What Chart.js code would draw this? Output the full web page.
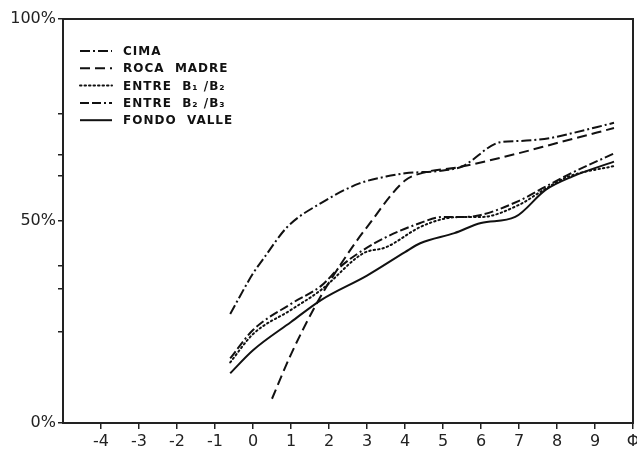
<!DOCTYPE html>
<html>
<head>
<meta charset="utf-8">
<script src="https://cdn.jsdelivr.net/npm/chart.js@4/dist/chart.umd.min.js"></script>
<style>
  html, body { margin: 0; padding: 0; background: #fff; }
  #wrap { width: 637px; height: 459px; position: relative; }
</style>
</head>
<body>
<div id="wrap"><canvas id="c" width="637" height="459"></canvas></div>
<script>
// ---- Data ----
const seriesLabels = ['CIMA', 'ROCA  MADRE', 'ENTRE  B\u2081 /B\u2082', 'ENTRE  B\u2082 /B\u2083', 'FONDO  VALLE'];

const cimaX = [-0.6, 0.0, 0.3, 0.9, 1.8, 2.8, 3.5, 4.0, 5.0, 5.5, 6.5, 7.0, 7.8, 8.2, 9.5];
const cimaY = [27.0, 37.0, 41.0, 48.5, 54.5, 59.3, 61.0, 61.8, 62.5, 63.5, 69.5, 69.8, 70.5, 71.3, 74.3];

const rocaX = [0.5, 1.0, 1.7, 2.5, 3.0, 4.0, 4.5, 5.4, 7.0, 8.0, 9.5];
const rocaY = [6.0, 17.0, 30.0, 42.0, 48.5, 60.0, 62.0, 63.3, 66.8, 69.3, 73.0];

const b12X = [-0.6, 0.0, 1.0, 1.8, 2.9, 3.5, 4.4, 5.0, 5.5, 6.0, 7.0, 7.7, 8.3, 9.5];
const b12Y = [15.0, 22.0, 28.0, 33.0, 42.0, 43.5, 48.5, 50.5, 51.0, 51.0, 54.0, 58.0, 61.0, 63.6];

const b23X = [-0.6, 0.0, 1.0, 1.8, 2.3, 3.2, 4.4, 5.0, 5.5, 6.0, 7.0, 7.7, 8.3, 9.5];
const b23Y = [16.0, 23.0, 29.5, 34.0, 38.7, 44.5, 49.5, 51.0, 51.0, 51.5, 55.0, 58.5, 61.5, 66.7];

const fondoX = [-0.6, 0.0, 1.0, 1.8, 3.0, 4.0, 4.4, 5.3, 6.0, 6.9, 7.7, 8.4, 9.5];
const fondoY = [12.3, 18.0, 25.0, 30.5, 36.5, 42.3, 44.5, 47.0, 49.5, 51.0, 57.7, 61.0, 64.7];

const xTickValues = [-4, -3, -2, -1, 0, 1, 2, 3, 4, 5, 6, 7, 8, 9, 10];
const xTickLabels = ['-4', '-3', '-2', '-1', '0', '1', '2', '3', '4', '5', '6', '7', '8', '9', '\u03A6'];

const yTickValues = [0, 22.5, 33.3, 38.8, 50, 61.1, 66.5, 76.5, 100];
const yTickLabels = ['0%', '', '', '', '50%', '', '', '', '100%'];

// ---- Build datasets ----
function pts(xs, ys) { return xs.map((x, i) => ({ x: x, y: ys[i] })); }
const dashes = [[10, 3, 2, 3], [10, 5], [1.5, 3], [9, 3, 9, 3, 2, 3], []];
const seriesData = [pts(cimaX, cimaY), pts(rocaX, rocaY), pts(b12X, b12Y), pts(b23X, b23Y), pts(fondoX, fondoY)];

const datasets = seriesData.map((d, i) => ({
  label: seriesLabels[i],
  data: d,
  borderColor: '#111',
  borderWidth: 2,
  borderDash: dashes[i],
  borderCapStyle: i === 2 ? 'round' : 'butt',
  pointRadius: 0,
  fill: false,
  tension: 0.35,
  cubicInterpolationMode: 'monotone'
}));

// ---- Plugins ----
const framePlugin = {
  id: 'frame',
  afterDatasetsDraw(chart) {
    const a = chart.chartArea, ctx = chart.ctx;
    ctx.save();
    ctx.strokeStyle = '#222';
    ctx.lineWidth = 2;
    ctx.setLineDash([]);
    ctx.strokeRect(a.left, a.top, a.right - a.left, a.bottom - a.top);
    ctx.restore();
  }
};

const legendPlugin = {
  id: 'customLegend',
  afterDraw(chart) {
    const a = chart.chartArea, ctx = chart.ctx;
    ctx.save();
    ctx.font = 'bold 12px "DejaVu Sans", sans-serif';
    try { ctx.letterSpacing = '1px'; } catch (e) {}
    ctx.textBaseline = 'middle';
    ctx.fillStyle = '#111';
    chart.data.datasets.forEach((ds, i) => {
      const y = a.top + 32 + i * 17.3;
      const x0 = a.left + 17, x1 = a.left + 49;
      ctx.beginPath();
      ctx.strokeStyle = '#111';
      ctx.lineWidth = 2;
      ctx.lineCap = ds.borderCapStyle;
      ctx.setLineDash(ds.borderDash);
      ctx.moveTo(x0, y);
      ctx.lineTo(x1, y);
      ctx.stroke();
      ctx.setLineDash([]);
      ctx.fillText(ds.label, a.left + 60, y + 1);
    });
    ctx.restore();
  }
};

// ---- Chart ----
new Chart(document.getElementById('c'), {
  type: 'line',
  data: { datasets: datasets },
  plugins: [framePlugin, legendPlugin],
  options: {
    responsive: false,
    animation: false,
    layout: { padding: { top: 19, right: 4, left: 0, bottom: 0 } },
    plugins: { legend: { display: false }, tooltip: { enabled: false } },
    scales: {
      x: {
        type: 'linear',
        min: -5,
        max: 10,
        afterBuildTicks(scale) { scale.ticks = xTickValues.map(v => ({ value: v })); },
        afterFit(scale) { scale.height = 36; scale.paddingLeft = 0; scale.paddingRight = 0; },
        border: { display: false },
        grid: { drawOnChartArea: false, drawTicks: true, tickLength: 6, color: '#222', lineWidth: 1.5 },
        ticks: {
          autoSkip: false,
          maxRotation: 0,
          padding: 3,
          color: '#222',
          font: { family: '"DejaVu Sans", sans-serif', size: 16 },
          callback(value) { const k = xTickValues.indexOf(value); return k >= 0 ? xTickLabels[k] : ''; }
        }
      },
      y: {
        type: 'linear',
        min: 0,
        max: 100,
        afterBuildTicks(scale) { scale.ticks = yTickValues.map(v => ({ value: v })); },
        afterFit(scale) { scale.width = 63; scale.paddingTop = 0; scale.paddingBottom = 0; },
        border: { display: false },
        grid: { drawOnChartArea: false, drawTicks: true, tickLength: 5, color: '#222', lineWidth: 1.5 },
        ticks: {
          autoSkip: false,
          padding: 2,
          color: '#222',
          font: { family: '"DejaVu Sans", sans-serif', size: 16 },
          callback(value) { const k = yTickValues.indexOf(value); return k >= 0 ? yTickLabels[k] : ''; }
        }
      }
    }
  }
});
</script>
</body>
</html>
